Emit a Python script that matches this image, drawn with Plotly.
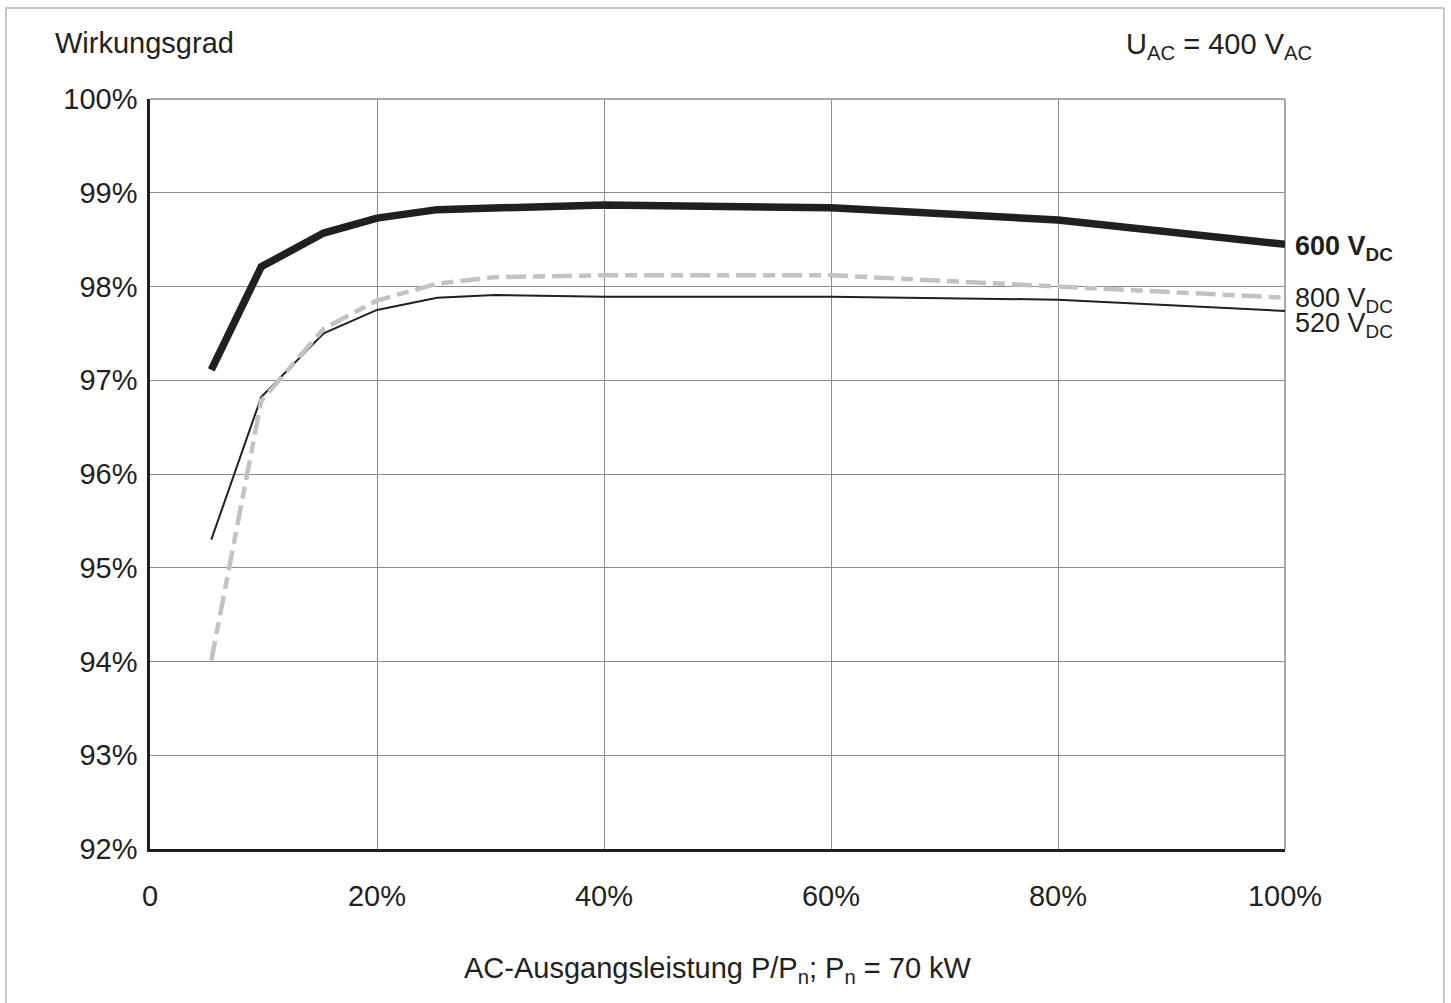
import plotly.graph_objects as go

# Data
load_pct = [5.4, 9.8, 15.3, 20, 25.3, 30.4, 40, 60, 80, 100]
eff_600 = [97.11, 98.21, 98.57, 98.73, 98.82, 98.84, 98.87, 98.84, 98.71, 98.45]
eff_800 = [94.01, 96.78, 97.55, 97.85, 98.03, 98.10, 98.12, 98.12, 98.00, 97.88]
eff_520 = [95.30, 96.82, 97.50, 97.75, 97.88, 97.91, 97.89, 97.89, 97.86, 97.74]

y_ticks = [92, 93, 94, 95, 96, 97, 98, 99, 100]
y_tick_text = ["92%", "93%", "94%", "95%", "96%", "97%", "98%", "99%", "100%"]
x_ticks = [0, 20, 40, 60, 80, 100]
x_tick_text = ["0", "20%", "40%", "60%", "80%", "100%"]

FONT = "Arial, 'Liberation Sans', Helvetica, sans-serif"
DARK = "#231f20"
GRID = "#8c8c8c"

fig = go.Figure()
fig.add_trace(go.Scatter(x=load_pct, y=eff_520, mode="lines",
                         line=dict(color=DARK, width=2), name="520 V DC"))
fig.add_trace(go.Scatter(x=load_pct, y=eff_800, mode="lines",
                         line=dict(color="#c2c2c6", width=4.5, dash="20px,7px,12px,7px"),
                         name="800 V DC"))
fig.add_trace(go.Scatter(x=load_pct, y=eff_600, mode="lines",
                         line=dict(color=DARK, width=7.5), name="600 V DC"))

fig.update_layout(
    width=1451, height=1003,
    margin=dict(l=150, r=166, t=99, b=154),
    paper_bgcolor="white", plot_bgcolor="white",
    showlegend=False,
    font=dict(family=FONT, size=29, color=DARK),
    xaxis=dict(range=[0, 100], tickvals=x_ticks, ticktext=x_tick_text,
               showgrid=True, gridcolor=GRID, gridwidth=1,
               zeroline=False, showline=True, linecolor=DARK, linewidth=2.5,
               ticks="", ticklabelstandoff=19, tickfont=dict(size=29)),
    yaxis=dict(range=[92, 100], tickvals=y_ticks, ticktext=y_tick_text,
               showgrid=True, gridcolor=GRID, gridwidth=1,
               zeroline=False, showline=True, linecolor=DARK, linewidth=2.5,
               ticks="", ticklabelstandoff=4, tickfont=dict(size=29)),
)

annotations = [
    dict(text="Wirkungsgrad", xref="paper", yref="paper", x=0, y=1,
         xanchor="left", yanchor="middle", xshift=-97, yshift=56,
         showarrow=False, font=dict(size=29)),
    dict(text="U<sub>AC</sub> = 400 V<sub>AC</sub>", xref="paper", yref="paper", x=1, y=1,
         xanchor="right", yanchor="middle", xshift=29, yshift=53,
         showarrow=False, font=dict(size=29)),
    dict(text="AC-Ausgangsleistung P/P<sub>n</sub>; P<sub>n</sub> = 70 kW", xref="paper", yref="paper",
         x=0.5, y=0, xanchor="center", yanchor="middle", yshift=-121,
         showarrow=False, font=dict(size=29)),
    dict(text="<b>600 V<sub>DC</sub></b>", xref="x", yref="y", x=load_pct[-1], y=eff_600[-1],
         xanchor="left", yanchor="middle", xshift=8, yshift=-4,
         showarrow=False, font=dict(size=27)),
    dict(text="800 V<sub>DC</sub>", xref="x", yref="y", x=load_pct[-1], y=eff_800[-1],
         xanchor="left", yanchor="middle", xshift=8, yshift=-2,
         showarrow=False, font=dict(size=27)),
    dict(text="520 V<sub>DC</sub>", xref="x", yref="y", x=load_pct[-1], y=eff_520[-1],
         xanchor="left", yanchor="middle", xshift=8, yshift=-14,
         showarrow=False, font=dict(size=27)),
]
fig.update_layout(annotations=annotations)

# top and right grid edges (gray) of the plot area
fig.add_shape(type="line", xref="paper", yref="paper", x0=0, x1=1, y0=1, y1=1,
              line=dict(color=GRID, width=1.5), layer="below")
fig.add_shape(type="line", xref="paper", yref="paper", x0=1, x1=1, y0=0, y1=1,
              line=dict(color=GRID, width=1.5), layer="below")

# outer frame
fig.add_shape(type="rect", xref="paper", yref="paper",
              x0=-0.1269, x1=1.140, y0=-0.21, y1=1.1213,
              line=dict(color="#b5b5b5", width=1.5), fillcolor="rgba(0,0,0,0)", layer="below")

fig.write_html("out.html")
